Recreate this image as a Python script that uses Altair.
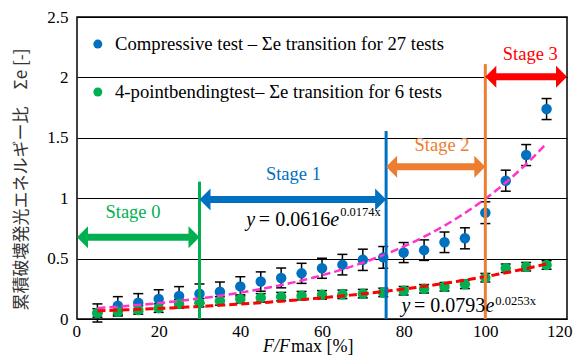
import altair as alt
import pandas as pd

# ---------------- data ----------------
x_pct = [5, 10, 15, 20, 25, 30, 35, 40, 45, 50, 55, 60, 65, 70, 75, 80, 85, 90, 95, 100, 105, 110, 115]
comp_mean = [0.05, 0.11, 0.135, 0.165, 0.19, 0.21, 0.226, 0.27, 0.31, 0.34, 0.378, 0.42, 0.45, 0.49,
             0.51, 0.55, 0.57, 0.635, 0.668, 0.88, 1.145, 1.357, 1.738]
comp_err = [0.075, 0.075, 0.075, 0.077, 0.078, 0.08, 0.08, 0.08, 0.08, 0.082, 0.083, 0.083, 0.085, 0.088,
            0.09, 0.083, 0.085, 0.085, 0.087, 0.09, 0.087, 0.087, 0.087]
bend_mean = [0.05, 0.06, 0.075, 0.09, 0.125, 0.135, 0.15, 0.165, 0.175, 0.185, 0.193, 0.2, 0.204, 0.21,
             0.22, 0.234, 0.25, 0.267, 0.287, 0.342, 0.42, 0.433, 0.447]
bend_err = [0.035] * 23

series_names = ["Compressive test \u2013 \u03a3e transition for 27 tests",
                "4-pointbendingtest\u2013 \u03a3e transition for 6 tests"]
series_colors = ["#0070C0", "#00B050"]

# exponential trend lines (coefficients as printed on the chart)
trend_a = [0.0793, 0.0616]
trend_b = [0.0253, 0.0174]
trend_colors = ["#FF33CC", "#FF0000"]
trend_range = [5, 115]

# stages
stages = ["Stage 0", "Stage 1", "Stage 2", "Stage 3"]
stage_colors = ["#00B050", "#0070C0", "#ED7D31", "#FF0000"]
stage_start = [0, 30, 75.7, 100]
stage_end = [30, 75.7, 100, 120]
arrow_y = [0.676, 0.99, 1.26, 2.006]
label_x = [13.7, 53, 89.4, 111]
label_y = [0.888, 1.2, 1.44, 2.19]

boundary_x = [30, 75.7, 100]
boundary_top = [1.137, 1.556, 2.11]
boundary_colors = ["#00B050", "#0070C0", "#ED7D31"]

x_ticks = [0, 20, 40, 60, 80, 100, 120]
y_ticks = [0, 0.5, 1, 1.5, 2, 2.5]

SERIF = "Times New Roman, Liberation Serif, serif"
W, H = 490, 302

xs = alt.Scale(domain=[0, 120], nice=False, zero=False)
ys = alt.Scale(domain=[0, 2.5], nice=False)

# ---------------- tables ----------------
pts = pd.DataFrame({
    "x": x_pct * 2,
    "y": comp_mean + bend_mean,
    "err": comp_err + bend_err,
    "col": [series_colors[0]] * len(x_pct) + [series_colors[1]] * len(x_pct),
})
pts["lo"] = pts["y"] - pts["err"]
pts["hi"] = pts["y"] + pts["err"]

stage_df = pd.DataFrame({"stage": stages, "col": stage_colors, "x0": stage_start, "x1": stage_end,
                         "ay": arrow_y, "lx": label_x, "ly": label_y})
bound_df = pd.DataFrame({"x": boundary_x, "top": boundary_top, "col": boundary_colors})

X = lambda f: alt.X(f, type="quantitative", scale=xs,
                    axis=alt.Axis(values=x_ticks, grid=False, ticks=False, domain=False, title=None,
                                  labelPadding=4, labelFlush=True, labelFlushOffset=5))
Y = lambda f: alt.Y(f, type="quantitative", scale=ys,
                    axis=alt.Axis(values=y_ticks, grid=True, gridColor="black", gridWidth=1, ticks=False,
                                  domain=False, format="~g", labelPadding=9,
                                  title="累積破壊発光エネルギー比　Σe [-]",
                                  titleFont="Noto Sans CJK JP", titleFontSize=17, titleFontWeight="normal",
                                  titleColor="#333333", titleX=-56, titleY=162, titleAngle=-90,
                                  titleAlign="center", titleBaseline="middle"))
C = alt.Color("col:N", scale=None)

base = alt.Chart(pts)
err_v = base.mark_rule(color="black", strokeWidth=1.5).encode(x=X("x"), y=Y("lo"), y2="hi")
err_lo = base.mark_rule(color="black", strokeWidth=1.5, xOffset=-5, x2Offset=5).encode(
    x=X("x"), x2="x", y=Y("lo"))
err_hi = base.mark_rule(color="black", strokeWidth=1.5, xOffset=-5, x2Offset=5).encode(
    x=X("x"), x2="x", y=Y("hi"))
dots = base.mark_circle(size=110, opacity=1).encode(x=X("x"), y=Y("y"), color=C)

trends = []
for a, b, c, w in zip(trend_a, trend_b, trend_colors, [2.5, 3]):
    t = (alt.Chart(alt.sequence(trend_range[0], trend_range[1] + 0.5, 1, as_="x"))
         .transform_calculate(y=f"{a}*exp({b}*datum.x)")
         .mark_line(color=c, strokeWidth=w, strokeDash=[8, 4])
         .encode(x=X("x:Q"), y=Y("y:Q")))
    trends.append(t)

bounds = alt.Chart(bound_df).mark_rule(strokeWidth=3).encode(
    x=X("x"), y=Y("top"), y2=alt.datum(0), color=C)

sbase = alt.Chart(stage_df)
shaft = sbase.mark_rule(strokeWidth=7, xOffset=10, x2Offset=-10).encode(
    x=X("x0"), x2="x1", y=Y("ay"), color=C)
head_r = sbase.mark_point(shape="M0,0L-1,-1L-1,1Z", filled=True, opacity=1, size=484, strokeWidth=0).encode(
    x=X("x1"), y=Y("ay"), color=C)
head_l = sbase.mark_point(shape="M0,0L1,-1L1,1Z", filled=True, opacity=1, size=484, strokeWidth=0).encode(
    x=X("x0"), y=Y("ay"), color=C)
stage_txt = sbase.mark_text(font=SERIF, fontSize=18.5).encode(
    x=X("lx"), y=Y("ly"), text="stage:N", color=C)

# equations
eq_df = pd.DataFrame({
    "main": ["= 0.0616", "= 0.0793"],
    "sup": ["0.0174x", "0.0253x"],
    "ex": [64.2, 102.2],
    "ey": [0.77, 0.058],
    "sy": [0.853, 0.116],
})
eq_main = alt.Chart(eq_df).mark_text(font=SERIF, fontSize=20, align="right", baseline="alphabetic",
                                     color="black", dx=-9).encode(x=X("ex"), y=Y("ey"), text="main:N")
eq_e = alt.Chart(eq_df).mark_text(font=SERIF, fontSize=20, fontStyle="italic", align="right",
                                  baseline="alphabetic", color="black").encode(
    x=X("ex"), y=Y("ey"), text=alt.value("e"))
eq_y = alt.Chart(eq_df).mark_text(font=SERIF, fontSize=20, fontStyle="italic", align="right",
                                  baseline="alphabetic", color="black", dx=-84).encode(
    x=X("ex"), y=Y("ey"), text=alt.value("y"))
eq_sup = alt.Chart(eq_df).mark_text(font=SERIF, fontSize=12.5, align="left", baseline="alphabetic",
                                    color="black", dx=1).encode(x=X("ex"), y=Y("sy"), text="sup:N")

# legend drawn inside the plot
leg_df = pd.DataFrame({"name": series_names, "col": series_colors, "lx": [5.1, 5.1],
                       "tx": [9.3, 9.3], "ly": [2.276, 1.879]})
leg_dot = alt.Chart(leg_df).mark_circle(size=80, opacity=1).encode(x=X("lx"), y=Y("ly"), color=C)
leg_txt = alt.Chart(leg_df).mark_text(font=SERIF, fontSize=18.7, align="left", color="black").encode(
    x=X("tx"), y=Y("ly"), text="name:N")

# x-axis title with italic F's
xt_df = pd.DataFrame({"a": ["F/F"], "b": ["max [%]"]})
xt_a = alt.Chart(xt_df).mark_text(font=SERIF, fontSize=18, fontStyle="italic", align="right",
                                  baseline="alphabetic", color="black").encode(
    x=alt.value(213), y=alt.value(335), text="a:N")
xt_b = alt.Chart(xt_df).mark_text(font=SERIF, fontSize=18, align="left", baseline="alphabetic",
                                  color="black").encode(x=alt.value(214), y=alt.value(335), text="b:N")

chart = alt.layer(
    err_v, err_lo, err_hi, dots, *trends, bounds, shaft, head_r, head_l, stage_txt,
    eq_main, eq_e, eq_y, eq_sup, leg_dot, leg_txt, xt_a, xt_b
).properties(
    width=W, height=H,
    autosize=alt.AutoSizeParams(type="none"),
    padding={"left": 69, "top": 9, "right": 6, "bottom": 36},
).configure_view(
    stroke="black", strokeWidth=1.5
).configure_axis(
    labelFont=SERIF, labelFontSize=17, labelColor="black"
)

chart.save("out.html", embed_options={"renderer": "svg", "actions": False})
